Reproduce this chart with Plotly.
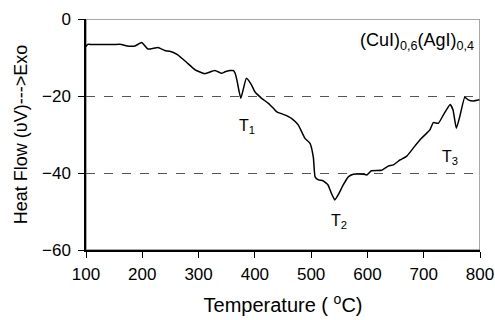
import plotly.graph_objects as go

temperature = [100, 103, 110, 130, 150, 163, 173, 187, 199, 210, 228, 240, 249, 263, 279, 294, 311, 329, 341,
               347, 356, 362, 365, 368, 375, 385, 394, 400, 412, 424, 433, 439, 453, 465, 477, 489, 498,
               504, 507, 513, 521, 530, 536, 542, 548, 557, 566, 575, 593, 599, 607, 625, 637, 646, 658,
               670, 681, 696, 705, 711, 717, 726, 735, 747, 752, 758, 764, 773, 779, 788, 799]
heat_flow = [-7.2, -6.6, -6.6, -6.6, -6.6, -6.6, -7.0, -7.0, -6.1, -7.8, -7.4, -8.2, -8.4, -9.3, -11.3, -13.2, -14.2, -13.4, -14.1,
             -13.7, -13.4, -13.4, -14.1, -15.8, -20.6, -15.4, -17.1, -18.9, -20.6, -21.9, -23.2, -24.1, -24.9, -25.8, -27.5, -31.0, -32.3,
             -36.0, -41.0, -41.8, -42.0, -43.1, -45.3, -47.0, -45.7, -43.1, -41.0, -40.3, -40.3, -40.5, -39.4, -39.3, -38.2, -37.9, -36.6,
             -35.6, -33.6, -31.0, -29.7, -28.8, -26.9, -27.1, -24.9, -22.2, -23.6, -28.4, -25.4, -20.3, -21.0, -21.3, -21.0]

x_ticks = [100, 200, 300, 400, 500, 600, 700, 800]
y_ticks = [0, -20, -40, -60]

font = "Liberation Sans, Arial, sans-serif"

fig = go.Figure()
fig.add_trace(go.Scatter(x=temperature, y=heat_flow, mode="lines",
                         line=dict(color="black", width=1.5, shape="spline", smoothing=0.4),
                         showlegend=False, hoverinfo="skip"))

# plot area border (gray)
fig.add_shape(type="rect", xref="x", yref="y", x0=100, x1=800, y0=-60, y1=0,
              line=dict(color="#8c8c8c", width=1.5), layer="below")

fig.add_annotation(x=793, y=-5.8, xref="x", yref="y", text="(CuI)<sub>0,6</sub>(AgI)<sub>0,4</sub>",
                   showarrow=False, xanchor="right", font=dict(family=font, size=18, color="black"))
fig.add_annotation(x=386, y=-28, text="T<sub>1</sub>", showarrow=False,
                   font=dict(family=font, size=16, color="black"))
fig.add_annotation(x=549, y=-52.5, text="T<sub>2</sub>", showarrow=False,
                   font=dict(family=font, size=16, color="black"))
fig.add_annotation(x=746, y=-36, text="T<sub>3</sub>", showarrow=False,
                   font=dict(family=font, size=16, color="black"))

fig.update_layout(
    width=495, height=320,
    margin=dict(l=86, r=15, t=19, b=70),
    paper_bgcolor="white", plot_bgcolor="white",
    font=dict(family=font, size=17, color="black"),
    xaxis=dict(range=[100, 800], tickvals=x_ticks, ticks="outside", ticklen=6, tickcolor="black",
               showline=True, linecolor="black", linewidth=1.5, showgrid=False, zeroline=False,
               tickfont=dict(size=17), ticklabelstandoff=2, automargin=False,
               title=dict(text="Temperature ( <sup>o</sup>C)", font=dict(size=20), standoff=15)),
    yaxis=dict(range=[-60, 0], tickvals=y_ticks, ticks="outside", ticklen=6, tickcolor="black",
               showline=True, linecolor="black", linewidth=1.5, showgrid=True,
               gridcolor="#555555", griddash="dash", gridwidth=1, zeroline=False,
               tickfont=dict(size=17), ticklabelstandoff=4, automargin=False,
               title=dict(text="Heat Flow (υV)--->Exo", font=dict(size=18), standoff=10)),
)

fig.write_html("out.html")
